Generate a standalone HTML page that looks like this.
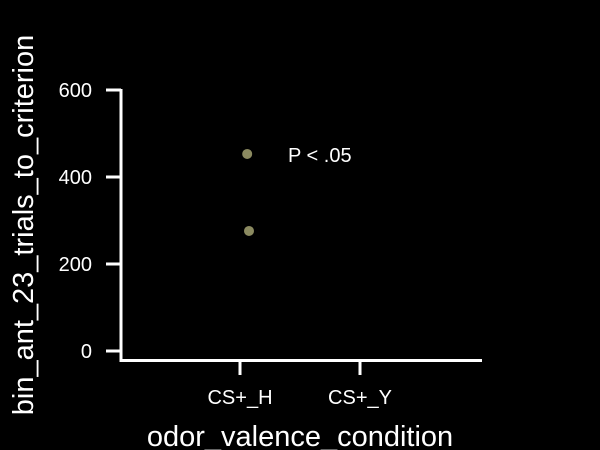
<!DOCTYPE html>
<html><head><meta charset="utf-8"><style>
html,body{margin:0;padding:0;background:#000;}
svg{display:block;font-family:"Liberation Sans",sans-serif;}
</style></head><body>
<svg id="chart" width="600" height="450" viewBox="0 0 600 450">
<rect width="600" height="450" fill="#000"/>
</svg>
<script>
const categories = ["CS+_H", "CS+_Y"];
const yTicks = [0, 200, 400, 600];
const pointCategory = [0, 0];
const pointJitter = [0.06, 0.075];
const pointValues = [453, 276];
const annotation = "P < .05";

const svg = document.getElementById('chart');
const NS = 'http://www.w3.org/2000/svg';
function yScale(v){ return 351 - v * (261/600); }
function xScale(i){ return 240 + i * 120; }
function mk(tag, attrs, parent){
  const e = document.createElementNS(NS, tag);
  for (const k in attrs) e.setAttribute(k, attrs[k]);
  (parent || svg).appendChild(e);
  return e;
}
const axisG = mk('g', {});


const yl = mk('line', {x1:121, y1:89, x2:121, y2:362, stroke:'#fff', 'stroke-width':3}, axisG);


const xl = mk('line', {x1:119.5, y1:360.5, x2:482, y2:360.5, stroke:'#fff', 'stroke-width':3}, axisG);


yTicks.forEach(t => {
  const y = yScale(t);
  const l = mk('line', {x1:106, y1:y, x2:121, y2:y, stroke:'#fff', 'stroke-width':3}, axisG);
  
  
  const tx = mk('text', {x:92, y:y+7, fill:'#fff', 'font-size':20, 'text-anchor':'end'}, axisG);
  tx.textContent = t;
  
  
});
categories.forEach((c, i) => {
  const x = xScale(i);
  const l = mk('line', {x1:x, y1:360, x2:x, y2:375, stroke:'#fff', 'stroke-width':3}, axisG);
  
  
  const tx = mk('text', {x:x, y:404, fill:'#fff', 'font-size':20, 'text-anchor':'middle'}, axisG);
  tx.textContent = c;
  
  
});
const xt = mk('text', {x:300, y:446, fill:'#fff', 'font-size':29, 'text-anchor':'middle'});
xt.textContent = 'odor_valence_condition';


const yt = mk('text', {x:0, y:0, fill:'#fff', 'font-size':29, 'text-anchor':'middle', transform:'translate(33,225) rotate(-90)'});
yt.textContent = 'bin_ant_23_trials_to_criterion';


pointValues.forEach((v, i) => {
  const c = mk('circle', {cx:xScale(pointCategory[i] + pointJitter[i]), cy:yScale(v), r:5, fill:'#8b8a60'});
  
  
});
const an = mk('text', {x:288, y:162, fill:'#fff', 'font-size':20});
an.textContent = annotation;


</script>
</body></html>
